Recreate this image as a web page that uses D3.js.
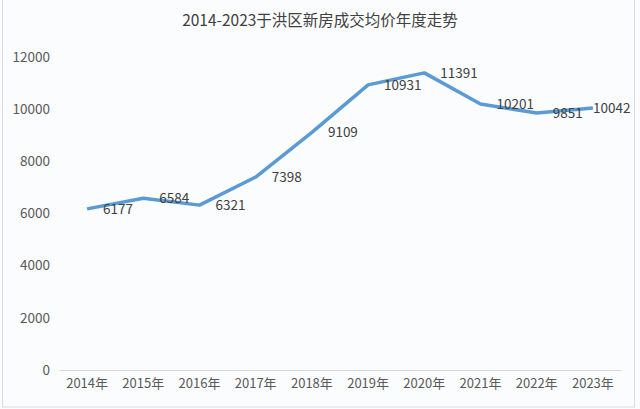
<!DOCTYPE html>
<html><head><meta charset="utf-8">
<script src="https://cdn.jsdelivr.net/npm/d3@7"></script>
<style>html,body{margin:0;padding:0;background:#fff;}</style>
</head><body>
<script>
const categories = ["2014年","2015年","2016年","2017年","2018年","2019年","2020年","2021年","2022年","2023年"];
const values = [6177,6584,6321,7398,9109,10931,11391,10201,9851,10042];
const yTicks = [0,2000,4000,6000,8000,10000,12000];
const title = "2014-2023于洪区新房成交均价年度走势";

const W=640,H=409;
const svg=d3.select("body").append("svg").attr("width",W).attr("height",H);
svg.append("rect").attr("x",0).attr("y",0).attr("width",W).attr("height",H).attr("fill","#fbfcfe");
svg.append("rect").attr("x",2.5).attr("y",-2).attr("width",632).attr("height",409).attr("fill","none").attr("stroke","#d9dbe0").attr("stroke-width",1);

const x=d3.scaleBand().domain(categories).range([59,621]);
const y=d3.scaleLinear().domain([0,12000]).range([370,57]);
const font="'Noto Sans CJK SC','Open Sans',sans-serif";

svg.append("text").attr("x",320).attr("y",26).attr("text-anchor","middle")
  .attr("font-family",font).attr("font-size",15.5).attr("fill","#404040").text(title);

const gy=svg.append("g").attr("transform","translate(50,0)")
  .call(d3.axisLeft(y).tickValues(yTicks).tickSize(0).tickPadding(0).tickFormat(d3.format("d")));
gy.select(".domain").remove();
gy.selectAll("text").attr("font-family",font).attr("font-size",13.5).attr("fill","#595959");

const gx=svg.append("g").attr("transform","translate(0,370)")
  .call(d3.axisBottom(x).tickSize(0).tickPadding(9));
gx.select(".domain").attr("stroke","#d9d9d9").attr("stroke-width",1);
gx.selectAll("text").attr("font-family",font).attr("font-size",13).attr("fill","#595959");

const cx=d=>x(d)+x.bandwidth()/2;
const pts=categories.map((c,i)=>({c,v:values[i]}));
svg.append("path").datum(pts)
  .attr("d",d3.line().x(d=>cx(d.c)).y(d=>y(d.v)))
  .attr("fill","none").attr("stroke","#5a9bd5").attr("stroke-width",3.5).attr("stroke-linejoin","round");

svg.selectAll("text.lbl").data(pts).enter().append("text").attr("class","lbl")
  .attr("x",(d,i)=>Math.min(cx(d.c)+16,632-39))
  .attr("y",d=>y(d.v)+5)
  .attr("font-family",font).attr("font-size",13.5).attr("fill","#404040")
  .text(d=>d.v);
</script>
</body></html>
